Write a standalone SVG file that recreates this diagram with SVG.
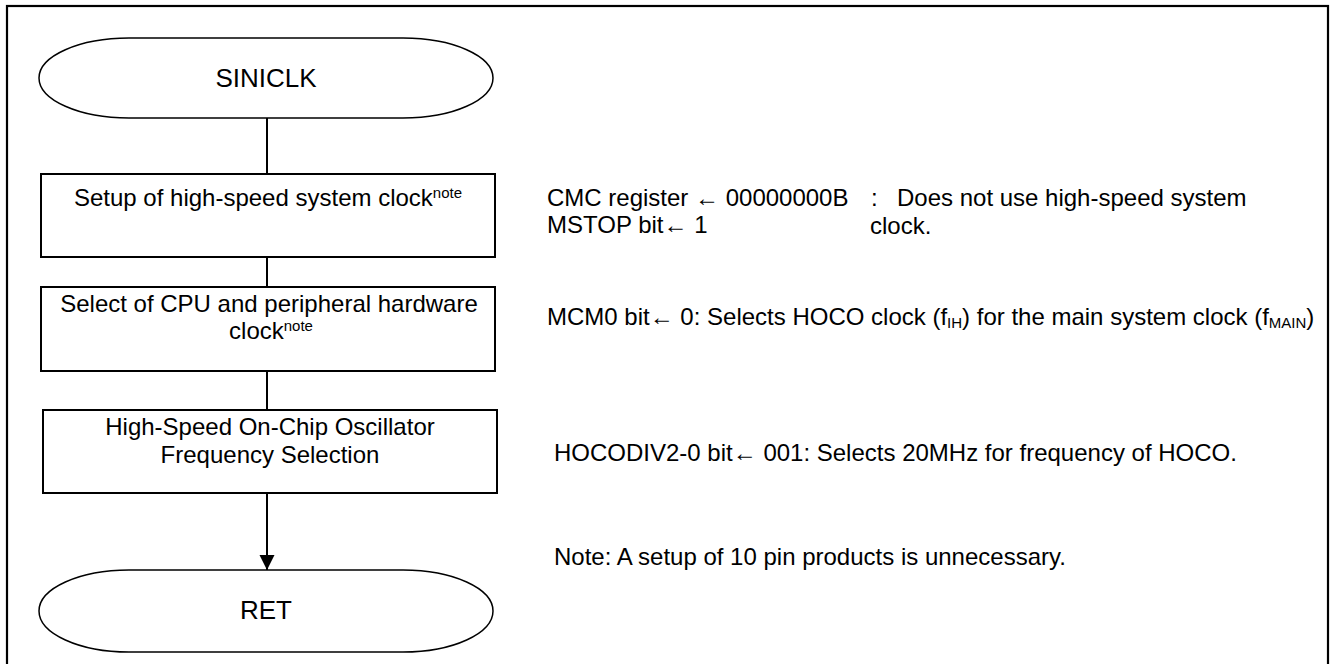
<svg xmlns="http://www.w3.org/2000/svg" width="1330" height="664" viewBox="0 0 1330 664">
<style>
text{font-family:"Liberation Sans",Arial,sans-serif;fill:#000;font-size:24px}
.term{fill:#fff;stroke:#000;stroke-width:1.5}
.box{fill:#fff;stroke:#000;stroke-width:2}
.t26{font-size:26px}
.sup{font-size:15px}
.conn{stroke:#000;stroke-width:2;fill:none}
</style>
<defs>
<marker id="arr" markerWidth="16" markerHeight="16" refX="15" refY="7.5" orient="auto" markerUnits="userSpaceOnUse">
<path d="M0,0 L15,7.5 L0,15 Z" fill="#000"/>
</marker>
</defs>
<rect x="7" y="6" width="1321" height="662" fill="#fff" stroke="#000" stroke-width="2.2"/>
<g id="connectors">
<line class="conn" x1="267" y1="118" x2="267" y2="174"/>
<line class="conn" x1="267" y1="257" x2="267" y2="287"/>
<line class="conn" x1="267" y1="371" x2="267" y2="410"/>
<line class="conn" x1="267" y1="493" x2="267" y2="570" marker-end="url(#arr)"/>
</g>
<g id="start">
<rect class="term" x="39" y="38" width="454" height="80" rx="90" ry="40"/>
<text class="t26" x="266" y="87" text-anchor="middle">SINICLK</text>
</g>
<g id="step1">
<rect class="box" x="41" y="174" width="454" height="83"/>
<text x="268" y="206" text-anchor="middle">Setup of high-speed system clock<tspan class="sup" dy="-8">note</tspan></text>
</g>
<g id="step2">
<rect class="box" x="41" y="287" width="454" height="84"/>
<text x="269" y="312" text-anchor="middle">Select of CPU and peripheral hardware</text>
<text x="271" y="339" text-anchor="middle">clock<tspan class="sup" dy="-8">note</tspan></text>
</g>
<g id="step3">
<rect class="box" x="43" y="410" width="454" height="83"/>
<text x="270" y="435" text-anchor="middle">High-Speed On-Chip Oscillator</text>
<text x="270" y="463" text-anchor="middle">Frequency Selection</text>
</g>
<g id="end">
<rect class="term" x="39" y="570" width="454" height="82" rx="90" ry="41"/>
<text class="t26" x="266" y="619" text-anchor="middle">RET</text>
</g>
<g id="notes">
<text x="547" y="206">CMC register ← 00000000B</text>
<text x="547" y="233">MSTOP bit← 1</text>
<text x="871" y="206">:<tspan x="897">Does not use high-speed system</tspan></text>
<text x="870" y="234">clock.</text>
<text x="547" y="325">MCM0 bit← 0: Selects HOCO clock (f<tspan class="sup" dy="3">IH</tspan><tspan dy="-3">) for the main system clock (f</tspan><tspan class="sup" dy="3">MAIN</tspan><tspan dy="-3">)</tspan></text>
<text x="554" y="461">HOCODIV2-0 bit← 001: Selects 20MHz for frequency of HOCO.</text>
<text x="554" y="565">Note: A setup of 10 pin products is unnecessary.</text>
</g>
</svg>
